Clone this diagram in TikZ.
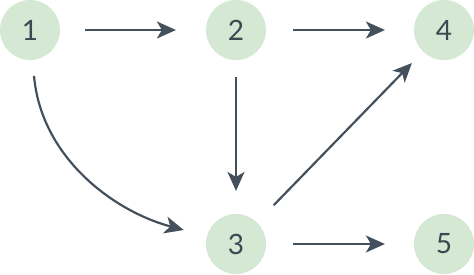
\documentclass[tikz,border=0pt]{standalone}
\usepackage{fontspec}
\setmainfont{Lato}
\usepackage{tikz}
\usetikzlibrary{arrows.meta}
\definecolor{vfill}{HTML}{D5E8D4}
\definecolor{edgec}{HTML}{44505C}
\definecolor{numc}{HTML}{3E4852}

\begin{document}
\begin{tikzpicture}[x=1pt, y=1pt, >={Stealth[length=19pt, width=17pt, inset=5pt]},
      line width=2.2pt,
      vtx/.style={circle, fill=vfill, minimum size=60pt, inner sep=0pt,
                  text=numc, font=\fontsize{28}{30}\selectfont},
      link/.style={->, draw=edgec}]
    \useasboundingbox (0,0) rectangle (474,274);
    \node[vtx] (n1) at (30,244) {1};
    \node[vtx] (n2) at (236,244) {2};
    \node[vtx] (n4) at (444,244) {4};
    \node[vtx] (n3) at (236,30) {3};
    \node[vtx] (n5) at (444,30) {5};
    \draw[link, shorten <=24pt, shorten >=29pt] (n1)--(n2);
    \draw[link, shorten <=26pt, shorten >=28pt] (n2)--(n4);
    \draw[link, shorten <=16pt, shorten >=22pt] (n2)--(n3);
    \draw[link, shorten <=26pt, shorten >=28pt] (n3)--(n5);
    \draw[link, shorten <=23pt, shorten >=15pt] (n3)--(n4);
    \draw[link, shorten <=15pt, shorten >=23pt] (n1) to[out=-85, in=165] (n3);
  \end{tikzpicture}
\end{document}
